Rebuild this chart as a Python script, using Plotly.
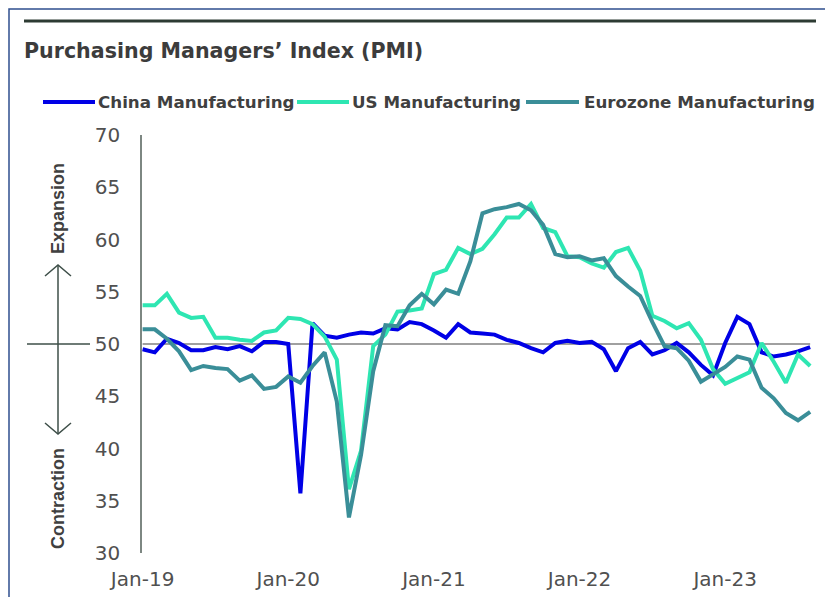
import plotly.graph_objects as go

# ---------------- data ----------------
month_names = ["Jan", "Feb", "Mar", "Apr", "May", "Jun", "Jul", "Aug", "Sep", "Oct", "Nov", "Dec"]
years = ["19", "20", "21", "22", "23"]
months = [f"{m}-{y}" for y in years for m in month_names][:56]   # Jan-19 .. Aug-23

tick_labels = ["Jan-19", "Jan-20", "Jan-21", "Jan-22", "Jan-23"]
y_ticks = [30, 35, 40, 45, 50, 55, 60, 65, 70]

china_pmi = [49.5, 49.2, 50.5, 50.1, 49.4, 49.4, 49.7, 49.5, 49.8, 49.3, 50.2, 50.2,
             50.0, 35.7, 52.0, 50.8, 50.6, 50.9, 51.1, 51.0, 51.5, 51.4, 52.1, 51.9,
             51.3, 50.6, 51.9, 51.1, 51.0, 50.9, 50.4, 50.1, 49.6, 49.2, 50.1, 50.3,
             50.1, 50.2, 49.5, 47.4, 49.6, 50.2, 49.0, 49.4, 50.1, 49.2, 48.0, 47.0,
             50.1, 52.6, 51.9, 49.2, 48.8, 49.0, 49.3, 49.7]

us_pmi = [53.7, 53.7, 54.8, 53.0, 52.5, 52.6, 50.6, 50.6, 50.4, 50.3, 51.1, 51.3,
          52.5, 52.4, 51.9, 50.7, 48.5, 36.1, 39.8, 49.8, 50.9, 53.1, 53.2, 53.4,
          56.7, 57.1, 59.2, 58.6, 59.1, 60.5, 62.1, 62.1, 63.4, 61.1, 60.7, 58.4,
          58.3, 57.7, 57.3, 58.8, 59.2, 57.0, 52.7, 52.2, 51.5, 52.0, 50.4, 47.6,
          46.2, 46.8, 47.3, 50.1, 48.3, 46.3, 49.0, 47.9]

eurozone_pmi = [51.4, 51.4, 50.5, 49.3, 47.5, 47.9, 47.7, 47.6, 46.5, 47.0, 45.7, 45.9,
                46.9, 46.3, 47.9, 49.2, 44.5, 33.4, 39.4, 47.4, 51.8, 51.7, 53.7, 54.8,
                53.8, 55.2, 54.8, 57.9, 62.5, 62.9, 63.1, 63.4, 62.8, 61.4, 58.6, 58.3,
                58.4, 58.0, 58.2, 56.5, 55.5, 54.6, 52.1, 49.8, 49.6, 48.4, 46.4, 47.1,
                47.8, 48.8, 48.5, 45.8, 44.8, 43.4, 42.7, 43.5]

series_names = ["China Manufacturing", "US Manufacturing", "Eurozone Manufacturing"]
series_colors = ["#0000E6", "#2EE6B2", "#3A8E98"]
series_values = [china_pmi, us_pmi, eurozone_pmi]

# ---------------- layout helpers ----------------
# the page body has an 8px margin, so the figure starts at (8, 8) in the window
OFF = 8
W, H = 833 - OFF, 597 - OFF
L, R, T, B = 142 - OFF, 18, 135 - OFF, 44
PW, PH = W - L - R, H - T - B


def px(x):
    """window x-pixel -> paper coordinate"""
    return (x - OFF - L) / PW


def py(y):
    """window y-pixel -> paper coordinate"""
    return (H - B - (y - OFF)) / PH


TEXT = "#404040"
AX = "#7d8782"
DEC = "#3e4f49"

fig = go.Figure()
for name, vals, col in zip(series_names, series_values, series_colors):
    fig.add_trace(go.Scatter(x=months, y=vals, mode="lines", name=name,
                             line=dict(color=col, width=4), showlegend=False,
                             hoverinfo="x+y+name"))

shapes = []
# 50 reference line inside plot
shapes.append(dict(type="line", xref="x", yref="y", x0=0, x1=55, y0=50, y1=50,
                   line=dict(color="#808080", width=1.6), layer="below"))
# left decoration: horizontal tick at 50 and arrows
shapes.append(dict(type="line", xref="paper", yref="paper", x0=px(27), x1=px(90),
                   y0=py(344), y1=py(344), line=dict(color=DEC, width=1.5)))
shapes.append(dict(type="line", xref="paper", yref="paper", x0=px(58), x1=px(58),
                   y0=py(266), y1=py(433), line=dict(color=DEC, width=1.5)))
shapes.append(dict(type="path", xref="paper", yref="paper",
                   path=f"M {px(45)},{py(276)} L {px(58)},{py(265)} L {px(71)},{py(276)}",
                   line=dict(color=DEC, width=1.5)))
shapes.append(dict(type="path", xref="paper", yref="paper",
                   path=f"M {px(45)},{py(423)} L {px(58)},{py(434)} L {px(71)},{py(423)}",
                   line=dict(color=DEC, width=1.5)))
# top rule
shapes.append(dict(type="line", xref="paper", yref="paper", x0=px(24), x1=px(816),
                   y0=py(21), y1=py(21), line=dict(color="#2d3b33", width=3)))
# outer frame
shapes.append(dict(type="rect", xref="paper", yref="paper", x0=px(9), x1=px(826),
                   y0=py(9), y1=py(640), line=dict(color="#2f4f8f", width=1.5)))

annotations = []
annotations.append(dict(text="<b>Purchasing Managers’ Index (PMI)</b>", xref="paper", yref="paper",
                        x=px(22), y=py(51), xanchor="left", yanchor="middle", showarrow=False,
                        font=dict(family="DejaVu Sans", size=20.6, color="#3c3c3c")))

# legend (line sample + label)
legend_items = [(43, 95, 96), (297, 349, 350), (526, 579, 582)]
for (s0, s1, tx), name, col in zip(legend_items, series_names, series_colors):
    shapes.append(dict(type="line", xref="paper", yref="paper", x0=px(s0), x1=px(s1),
                       y0=py(102), y1=py(102), line=dict(color=col, width=4)))
    annotations.append(dict(text=f"<b>{name}</b>", xref="paper", yref="paper",
                            x=px(tx), y=py(102), xanchor="left", yanchor="middle",
                            showarrow=False,
                            font=dict(family="DejaVu Sans", size=16.7, color=TEXT)))

annotations.append(dict(text="<b>Expansion</b>", textangle=-90, xref="paper", yref="paper",
                        x=px(58), y=py(209), xanchor="center", yanchor="middle", showarrow=False,
                        font=dict(family="Liberation Sans", size=18, color=TEXT)))
annotations.append(dict(text="<b>Contraction</b>", textangle=-90, xref="paper", yref="paper",
                        x=px(58), y=py(499), xanchor="center", yanchor="middle", showarrow=False,
                        font=dict(family="Liberation Sans", size=18, color=TEXT)))

fig.update_layout(
    template="none",
    width=W, height=H,
    margin=dict(l=L, r=R, t=T, b=B, pad=0),
    paper_bgcolor="white", plot_bgcolor="white",
    showlegend=False,
    shapes=shapes,
    annotations=annotations,
    xaxis=dict(type="category", categoryorder="array", categoryarray=months,
               range=[-0.05, 55.4], tickmode="array", tickvals=tick_labels, ticktext=tick_labels,
               showgrid=False, zeroline=False, showline=False, ticks="",
               ticklabelstandoff=12,
               tickfont=dict(family="DejaVu Sans", size=20, color="#505050"),
               automargin=False),
    yaxis=dict(range=[30, 70], tickmode="array", tickvals=y_ticks,
               showgrid=False, zeroline=False, showline=True, linecolor=AX, linewidth=1.6,
               ticks="", ticklabelstandoff=16,
               tickfont=dict(family="DejaVu Sans", size=20, color="#505050"),
               automargin=False),
)

fig.write_html("out.html")
